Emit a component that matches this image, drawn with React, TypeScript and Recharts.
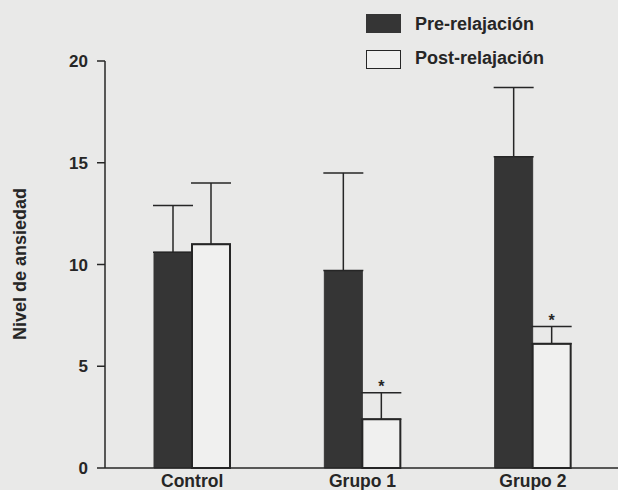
import React from 'react';
import { ComposedChart, Bar, XAxis, YAxis, ErrorBar, LabelList } from 'recharts';

const categories = ['Control', 'Grupo 1', 'Grupo 2'];
const preValues = [10.6, 9.7, 15.3];
const preErrors = [2.3, 4.8, 3.4];
const postValues = [11.0, 2.4, 6.1];
const postErrors = [3.0, 1.3, 0.85];
const significance = ['', '*', '*'];
const yTicks = [0, 5, 10, 15, 20];

const seriesNames = { pre: 'Pre-relajación', post: 'Post-relajación' };
const yLabel = 'Nivel de ansiedad';

const data = categories.map((c, i) => ({
  name: c,
  pre: preValues[i],
  preErr: [0, preErrors[i]],
  post: postValues[i],
  postErr: [0, postErrors[i]],
  sig: significance[i],
}));

const FONT = '"Liberation Sans", Arial, Helvetica, sans-serif';
const INK = '#262626';
const DARK = '#353535';
const LIGHT = '#f0f0ef';
const BG = '#e9e9e8';

const XTick = (props: any) => {
  const { x, payload } = props;
  return (
    <text x={x} y={487} textAnchor="middle" fontFamily={FONT} fontWeight="bold" fontSize={17.5} fill={INK}>
      {payload.value}
    </text>
  );
};

const SigLabel = (props: any) => {
  const { x, y, width, height, index } = props;
  const entry = data[index];
  if (!entry || !entry.sig) return null;
  const pxPerUnit = height / entry.post;
  const errTop = y - entry.postErr[1] * pxPerUnit;
  return (
    <text x={x + width / 2} y={errTop - 1} textAnchor="middle" fontFamily={FONT} fontSize={16} fontWeight="bold" fill={INK}>
      {entry.sig}
    </text>
  );
};

export default function App() {
  return (
    <div style={{ position: 'absolute', left: 0, top: 0, width: 618, height: 490, background: BG, overflow: 'hidden' }}>
      <ComposedChart
        width={618}
        height={490}
        data={data}
        margin={{ top: 61, right: 0, bottom: 0, left: 0 }}
        barGap={0}
        barCategoryGap="28%"
      >
        <XAxis
          dataKey="name"
          height={22}
          tickLine={false}
          axisLine={{ stroke: INK, strokeWidth: 1.5 }}
          padding={{ left: 2, right: 0 }}
          tick={<XTick />}
          interval={0}
        />
        <YAxis
          width={105}
          domain={[0, 20]}
          ticks={yTicks}
          tickSize={8}
          tickMargin={9}
          axisLine={{ stroke: INK, strokeWidth: 1.5 }}
          tickLine={{ stroke: INK, strokeWidth: 1.5 }}
          tick={{ fontFamily: FONT, fontWeight: 'bold', fontSize: 17, fill: INK }}
          label={{
            content: () => (
              <text
                x={0}
                y={0}
                transform="translate(26 264) rotate(-90)"
                textAnchor="middle"
                fontFamily={FONT}
                fontWeight="bold"
                fontSize={18}
                fill={INK}
              >
                {yLabel}
              </text>
            ),
          }}
        />
        <Bar dataKey="pre" name={seriesNames.pre} fill={DARK} stroke={DARK} strokeWidth={1} barSize={38} isAnimationActive={false}>
          <ErrorBar dataKey="preErr" width={20} stroke={INK} strokeWidth={1.5} direction="y" />
        </Bar>
        <Bar dataKey="post" name={seriesNames.post} fill={LIGHT} stroke={INK} strokeWidth={2} barSize={38} isAnimationActive={false}>
          <ErrorBar dataKey="postErr" width={20} stroke={INK} strokeWidth={1.5} direction="y" />
          <LabelList dataKey="sig" content={<SigLabel />} />
        </Bar>
      </ComposedChart>
      <div style={{ position: 'absolute', left: 366, top: 14, width: 35, height: 19, background: DARK }} />
      <div style={{ position: 'absolute', left: 366, top: 50, width: 35, height: 19, background: LIGHT, border: `1.5px solid ${INK}`, boxSizing: 'border-box' }} />
      <div style={{ position: 'absolute', left: 415, top: 13, fontFamily: FONT, fontWeight: 'bold', fontSize: 18, lineHeight: '22px', color: INK, whiteSpace: 'nowrap' }}>
        {seriesNames.pre}
      </div>
      <div style={{ position: 'absolute', left: 415, top: 47, fontFamily: FONT, fontWeight: 'bold', fontSize: 18, lineHeight: '22px', color: INK, whiteSpace: 'nowrap' }}>
        {seriesNames.post}
      </div>
    </div>
  );
}
